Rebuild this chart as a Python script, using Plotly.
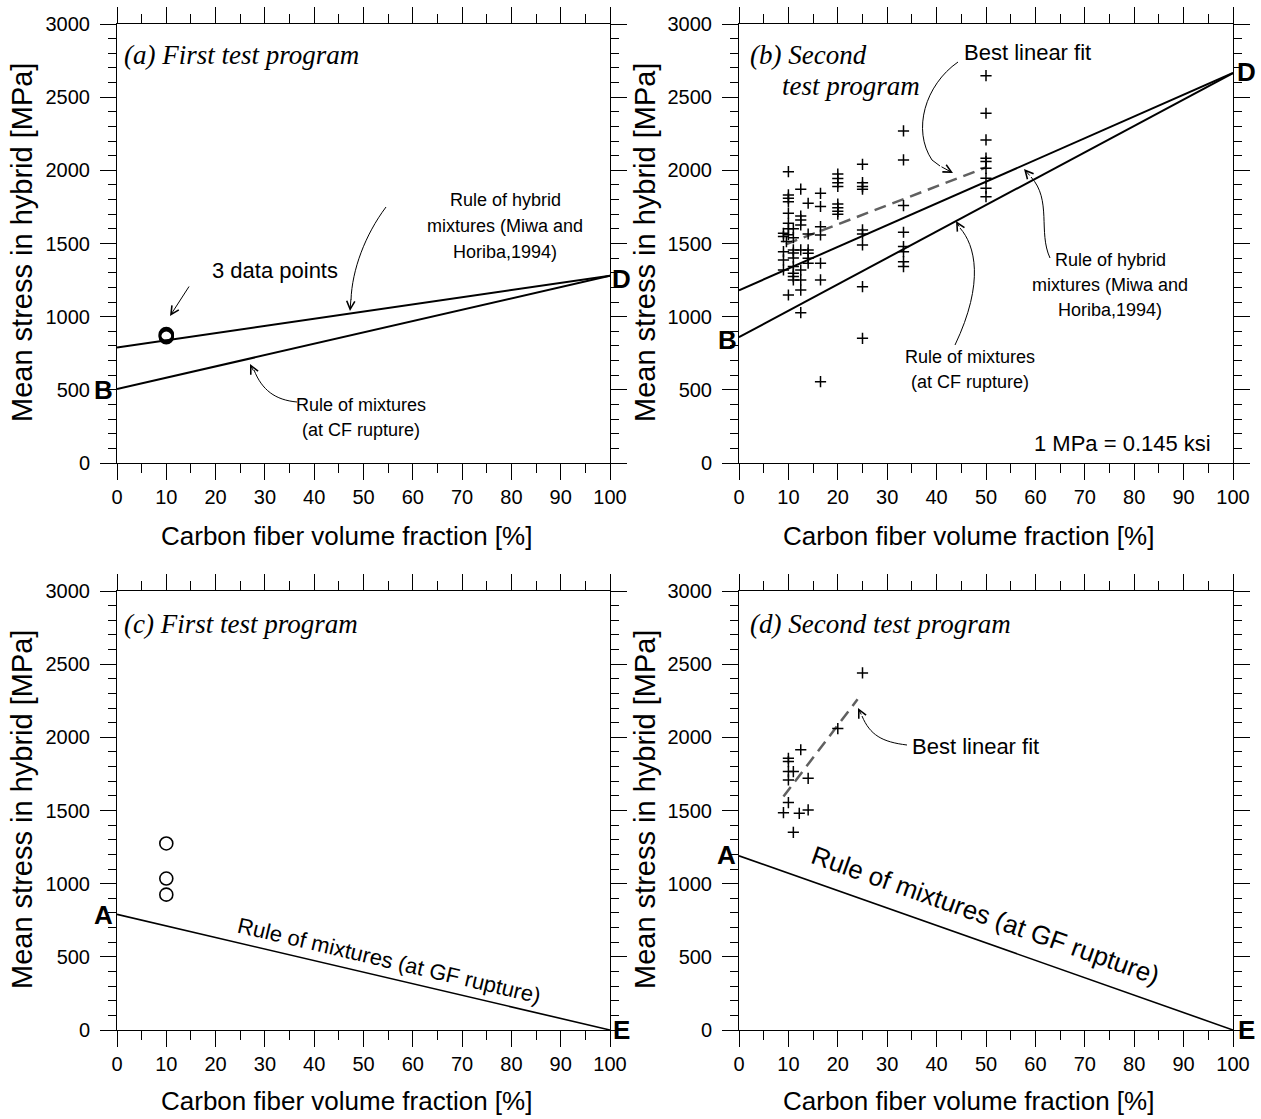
import plotly.graph_objects as go

# ---------------- data ----------------
line_x = [0, 100]

# (a) first test program
a_cf = [10, 10, 10]
a_stress = [862, 870, 878]
a_hybrid_rule = [790, 1280]
a_cf_rule = [505, 1280]

# (b) second test program
b_cf = ([9] * 5 + [9.6] + [10] * 9 + [11] * 9 + [12.5] * 9 + [14] * 6 + [16.5] * 7
        + [20] * 8 + [25] * 9 + [33.3] * 8 + [50] * 9)
b_stress = ([1570, 1547, 1444, 1388, 1319] + [1513]
            + [1991, 1832, 1809, 1786, 1707, 1638, 1600, 1560, 1148]
            + [1600, 1540, 1456, 1435, 1401, 1342, 1297, 1274, 1251]
            + [1871, 1688, 1661, 1627, 1456, 1319, 1251, 1182, 1027]
            + [1775, 1565, 1456, 1433, 1399, 1365]
            + [1843, 1753, 1615, 1558, 1365, 1251, 556]
            + [1975, 1945, 1915, 1890, 1770, 1745, 1720, 1700]
            + [2041, 1916, 1889, 1871, 1593, 1565, 1490, 1205, 852]
            + [2269, 2071, 1759, 1577, 1479, 1444, 1376, 1342]
            + [2647, 2390, 2208, 2083, 2060, 2014, 1946, 1878, 1820])
b_hybrid_rule = [1180, 2665]
b_cf_rule = [860, 2665]
b_fit_x = [9.5, 50]
b_fit_y = [1495, 2020]

# (c) first test program
c_cf = [10, 10, 10]
c_stress = [1275, 1035, 925]
c_gf_rule = [790, 0]

# (d) second test program
d_cf = [25, 20, 12.5, 10, 10, 10, 11, 10, 14, 10, 9, 12.2, 14, 11]
d_stress = [2440, 2060, 1915, 1857, 1834, 1766, 1766, 1709, 1720, 1554, 1485, 1481, 1504, 1351]
d_fit_x = [9, 24]
d_fit_y = [1595, 2260]
d_gf_rule = [1190, 0]

X_TITLE = "Carbon fiber volume fraction [%]"
Y_TITLE = "Mean stress in hybrid [MPa]"

# ---------------- layout helpers ----------------
FONT = "Liberation Sans, Arial, sans-serif"
SERIF = "Liberation Serif, Times New Roman, serif"
W, H = 1261, 1119
ML, MR, MT, MB = 117, 28, 24, 89
PW = W - ML - MR
PH = H - MT - MB

# pixel frames of each panel: (x at 0, x at 100, y at 0, y at 3000)
PANELS = {
    "a": ("x", "y", 117, 610, 463, 24),
    "b": ("x2", "y2", 739, 1233, 463, 24),
    "c": ("x3", "y3", 117, 610, 1030, 591),
    "d": ("x4", "y4", 739, 1233, 1030, 591),
}


def pdat(p, px, py):
    _, _, x0, x1, y0, y1 = PANELS[p]
    return (px - x0) / (x1 - x0) * 100.0, (y0 - py) / (y0 - y1) * 3000.0


def ppaper(px, py):
    return (px - ML) / PW, (H - MB - py) / PH


fig = go.Figure()


def add_line(p, x, y, dash=None, color="black", width=2):
    xr, yr = PANELS[p][0], PANELS[p][1]
    fig.add_trace(go.Scatter(x=x, y=y, mode="lines", xaxis=xr, yaxis=yr,
                             line=dict(color=color, width=width, dash=dash),
                             showlegend=False, hoverinfo="skip"))


def add_points(p, x, y, symbol, size, lw):
    xr, yr = PANELS[p][0], PANELS[p][1]
    fig.add_trace(go.Scatter(x=x, y=y, mode="markers", xaxis=xr, yaxis=yr,
                             marker=dict(symbol=symbol, size=size, color="black",
                                         line=dict(color="black", width=lw)),
                             showlegend=False, hoverinfo="skip"))


DASH = "12px,7px"
# panel a
add_line("a", line_x, a_hybrid_rule)
add_line("a", line_x, a_cf_rule)
add_points("a", a_cf, a_stress, "circle-open", 13, 2.5)
# panel b
add_line("b", line_x, b_hybrid_rule)
add_line("b", line_x, b_cf_rule)
add_line("b", b_fit_x, b_fit_y, dash=DASH, color="#606060", width=2.5)
add_points("b", b_cf, b_stress, "cross-thin", 8, 1.5)
# panel c
add_line("c", line_x, c_gf_rule, width=1.6)
add_points("c", c_cf, c_stress, "circle-open", 13, 1.6)
# panel d
add_line("d", line_x, d_gf_rule, width=1.6)
add_line("d", d_fit_x, d_fit_y, dash=DASH, color="#606060", width=2.5)
add_points("d", d_cf, d_stress, "cross-thin", 8, 1.5)

annotations = []
shapes = []


def text(px, py, s, size=18, font=FONT, xanchor="center", angle=0):
    x, y = ppaper(px, py)
    annotations.append(dict(x=x, y=y, xref="paper", yref="paper", text=s,
                            showarrow=False, xanchor=xanchor, yanchor="middle",
                            textangle=angle, font=dict(size=size, family=font, color="black")))


def curve(p, pts):
    xs = [pdat(p, a, b) for a, b in pts]
    d = "M %f,%f " % xs[0]
    if len(xs) == 4:
        d += "C %f,%f %f,%f %f,%f" % (xs[1] + xs[2] + xs[3])
    elif len(xs) == 3:
        d += "Q %f,%f %f,%f" % (xs[1] + xs[2])
    else:
        d += "L %f,%f" % xs[1]
    shapes.append(dict(type="path", path=d, xref=PANELS[p][0], yref=PANELS[p][1],
                       line=dict(color="black", width=1)))


def head(p, tail, tip):
    tx, ty = pdat(p, *tail)
    hx, hy = pdat(p, *tip)
    annotations.append(dict(x=hx, y=hy, ax=tx, ay=ty, xref=PANELS[p][0], yref=PANELS[p][1],
                            axref=PANELS[p][0], ayref=PANELS[p][1], text="", showarrow=True,
                            arrowhead=5, arrowsize=1.6, arrowwidth=1, arrowcolor="black"))


BOLD = 26
TSZ = 27
# ---- axis titles
for cx, cy in [(346, 536), (968, 536), (346, 1101), (968, 1101)]:
    text(cx, cy, X_TITLE, size=26)
for cx, cy in [(22, 243), (645, 243), (22, 810), (645, 810)]:
    text(cx, cy, Y_TITLE, size=29, angle=-90)

# ---- panel a annotations
text(122, 55, "<i>(a) First test program</i>", size=TSZ, font=SERIF, xanchor="left")
text(275, 270, "3 data points", size=22)
head("a", (190, 285), (170, 316))
text(505, 200, "Rule of hybrid")
text(505, 226, "mixtures (Miwa and")
text(505, 252, "Horiba,1994)")
curve("a", [(386, 207), (365, 235), (352, 270), (351, 300)])
head("a", (351, 298), (350, 311))
text(361, 405, "Rule of mixtures")
text(361, 430, "(at CF rupture)")
curve("a", [(297, 402), (275, 400), (262, 390), (254, 370)])
head("a", (254, 372), (250, 364))
text(103, 390, "<b>B</b>", size=BOLD)
text(621, 279, "<b>D</b>", size=BOLD)

# ---- panel b annotations
text(748, 55, "<i>(b) Second</i>", size=TSZ, font=SERIF, xanchor="left")
text(780, 86, "<i>test program</i>", size=TSZ, font=SERIF, xanchor="left")
text(1027, 52, "Best linear fit", size=22)
curve("b", [(958, 62), (925, 85), (912, 130), (932, 160)])
curve("b", [(932, 160), (940, 166)])
head("b", (940, 166), (953, 173))
text(1110, 260, "Rule of hybrid")
text(1110, 285, "mixtures (Miwa and")
text(1110, 310, "Horiba,1994)")
curve("b", [(1050, 258), (1038, 232), (1052, 200), (1031, 177)])
head("b", (1031, 177), (1024, 169))
text(970, 357, "Rule of mixtures")
text(970, 382, "(at CF rupture)")
curve("b", [(955, 345), (985, 282), (975, 245), (960, 228)])
head("b", (960, 228), (956, 221))
text(1213, 443, "1 MPa = 0.145 ksi", size=22, xanchor="right")
text(727, 340, "<b>B</b>", size=BOLD)
text(1246, 72, "<b>D</b>", size=BOLD)

# ---- panel c annotations
text(122, 624, "<i>(c) First test program</i>", size=TSZ, font=SERIF, xanchor="left")
text(389, 960, "Rule of mixtures (at GF rupture)", size=22, angle=13.3)
text(103, 915, "<b>A</b>", size=BOLD)
text(621, 1030, "<b>E</b>", size=BOLD)

# ---- panel d annotations
text(748, 624, "<i>(d) Second test program</i>", size=TSZ, font=SERIF, xanchor="left")
text(975, 746, "Best linear fit", size=22)
curve("d", [(907, 745), (882, 742), (870, 735), (862, 716)])
head("d", (862, 716), (858, 708))
text(985, 915, "Rule of mixtures (at GF rupture)", size=26, angle=19.5)
text(726, 855, "<b>A</b>", size=BOLD)
text(1246, 1030, "<b>E</b>", size=BOLD)

# ---------------- axes ----------------
xdom_l = [(117 - ML) / PW, (610 - ML) / PW]
xdom_r = [(739 - ML) / PW, (1233 - ML) / PW]
ydom_t = [(H - MB - 463) / PH, (H - MB - 24) / PH]
ydom_b = [(H - MB - 1030) / PH, (H - MB - 591) / PH]


def xaxis(dom, anchor):
    return dict(domain=dom, anchor=anchor, range=[0, 100], tick0=0, dtick=10,
                ticks="outside", ticklen=16, tickwidth=1, tickcolor="black",
                showline=True, linecolor="black", linewidth=1, mirror="allticks",
                showgrid=False, zeroline=False, automargin=False, ticklabelstandoff=0,
                minor=dict(dtick=5, ticks="outside", ticklen=9, tickwidth=1,
                           tickcolor="black", showgrid=False),
                tickfont=dict(size=20, family=FONT, color="black"))


def yaxis(dom, anchor):
    return dict(domain=dom, anchor=anchor, range=[0, 3000], tick0=0, dtick=500,
                ticks="outside", ticklen=16, tickwidth=1, tickcolor="black",
                showline=True, linecolor="black", linewidth=1, mirror="allticks",
                showgrid=False, zeroline=False, ticklabelstandoff=6, automargin=False,
                minor=dict(dtick=100, ticks="outside", ticklen=8, tickwidth=1,
                           tickcolor="black", showgrid=False),
                tickfont=dict(size=20, family=FONT, color="black"))


fig.update_layout(
    width=W, height=H,
    margin=dict(l=ML, r=MR, t=MT, b=MB, autoexpand=False),
    paper_bgcolor="white", plot_bgcolor="white",
    font=dict(family=FONT, color="black"),
    showlegend=False,
    xaxis=xaxis(xdom_l, "y"), yaxis=yaxis(ydom_t, "x"),
    xaxis2=xaxis(xdom_r, "y2"), yaxis2=yaxis(ydom_t, "x2"),
    xaxis3=xaxis(xdom_l, "y3"), yaxis3=yaxis(ydom_b, "x3"),
    xaxis4=xaxis(xdom_r, "y4"), yaxis4=yaxis(ydom_b, "x4"),
    annotations=annotations, shapes=shapes,
)

fig.write_html("out.html")
